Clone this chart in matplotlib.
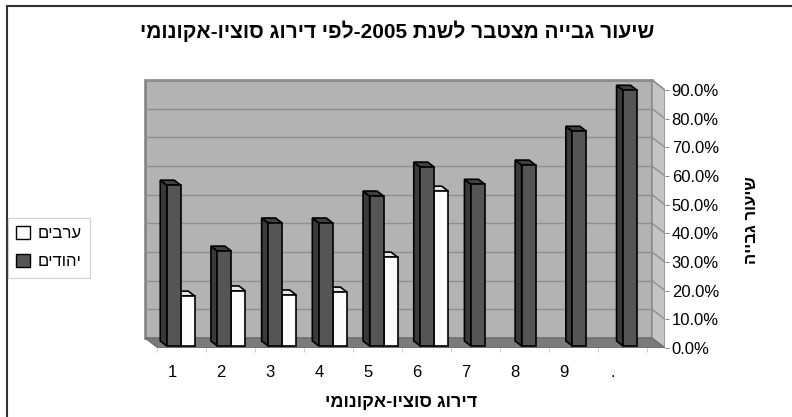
import re
import matplotlib
matplotlib.use("Agg")
import matplotlib.pyplot as plt
from matplotlib.patches import Polygon, Rectangle, Patch

plt.rcParams['font.family'] = ['Liberation Sans', 'DejaVu Sans']

# ---------------- data ----------------
categories = ["1", "2", "3", "4", "5", "6", "7", "8", "9", "."]
jews = [56.1, 33.1, 42.9, 42.9, 52.3, 62.4, 56.4, 63.1, 74.9, 89.2]
arabs = [17.4, 19.2, 17.8, 18.8, 31.0, 54.0, None, None, None, None]
yticks = [0, 10, 20, 30, 40, 50, 60, 70, 80, 90]
series_names = ["ערבים", "יהודים"]
title = "שיעור גבייה מצטבר לשנת 2005-לפי דירוג סוציו-אקונומי"
xlabel = "דירוג סוציו-אקונומי"
ylabel = "שיעור גבייה"


def vis(s):
    """Logical Hebrew string -> visual (LTR drawing) order."""
    r = s[::-1]
    return re.sub(r'[0-9A-Za-z.%]+', lambda m: m.group()[::-1], r)


W, H = 792, 417
fig = plt.figure(figsize=(W / 100, H / 100), dpi=100)

# geometry (pixels)
X0, SX = 158.0, 50.7      # front-left floor corner, px per category
Y0, SY = 348.0, 2.867     # 0% line at front, px per percent
n = len(categories)
xl = (-0.3, n)
yl = (0, 95)
left = X0 + SX * xl[0]
right = X0 + SX * xl[1]
top = Y0 - SY * yl[1]
ax = fig.add_axes([left / W, 1 - Y0 / H, (right - left) / W, (Y0 - top) / H])
ax.set_xlim(*xl)
ax.set_ylim(*yl)
for s in ax.spines.values():
    s.set_visible(False)
ax.patch.set_visible(False)

# depth offsets (data units)
DX = -13 / SX
DY = 10 / SY
ymax = yticks[-1]

# back wall
ax.add_patch(Polygon([(DX, DY), (n + DX, DY), (n + DX, ymax + DY), (DX, ymax + DY)],
                     closed=True, facecolor="#b3b3b3", edgecolor="#7f7f7f", lw=1.8, zorder=1))
# right wall
ax.add_patch(Polygon([(n, 0), (n + DX, DY), (n + DX, ymax + DY), (n, ymax)],
                     closed=True, facecolor="#c4c4c4", edgecolor="#8a8a8a", lw=1.0, zorder=1))
# floor
ax.add_patch(Polygon([(0, 0), (n, 0), (n + DX, DY), (DX, DY)],
                     closed=True, facecolor="#7a7a7a", edgecolor="#6a6a6a", lw=0.8, zorder=1.5))
# gridlines
for v in yticks[1:]:
    ax.plot([DX, n + DX], [v + DY, v + DY], color="#8f8f8f", lw=1.0, zorder=1.2)
    ax.plot([n + DX, n], [v + DY, v], color="#8f8f8f", lw=1.0, zorder=1.2)

# bars
bw = 14 / SX
f = 0.2
bdx, bdy = 0.5 * DX, 0.5 * DY
z = 3


def draw_bar(x0, val, front, side, topc, z):
    b = f * DY
    t = b + val
    x1 = x0 + bw
    ax.add_patch(Polygon([(x0, b), (x0, t), (x0 + bdx, t + bdy), (x0 + bdx, b + bdy)],
                         closed=True, facecolor=side, edgecolor="black", lw=1.2, zorder=z))
    ax.add_patch(Polygon([(x0, t), (x1, t), (x1 + bdx, t + bdy), (x0 + bdx, t + bdy)],
                         closed=True, facecolor=topc, edgecolor="black", lw=1.2, zorder=z))
    ax.bar(x0, val, width=bw, bottom=b, align="edge", color=front,
           edgecolor="black", lw=1.2, zorder=z + 0.1)


for i in range(n):
    c = i + 0.5 + f * DX
    if arabs[i] is not None:
        draw_bar(c, arabs[i], "#fcfcfc", "#d8d8d8", "#e6e6e6", z)
    draw_bar(c - bw, jews[i], "#555555", "#3a3a3a", "#404040", z + 1)
    z += 2

# axes ticks
ax.yaxis.tick_right()
ax.set_yticks(yticks)
ax.set_yticklabels([f"{v:.1f}%" for v in yticks], fontsize=12)
ax.tick_params(axis="y", length=3, pad=1.8, color="#8a8a8a")
label_x = [0.28 + 0.966 * i for i in range(n)]
ax.set_xticks(label_x)
ax.set_xticklabels(categories, fontsize=12)
ax.tick_params(axis="x", length=0, pad=12)
ax.set_xticks([-0.02 + 0.966 * i for i in range(n + 1)], minor=True)
ax.tick_params(axis="x", which="minor", length=3, color="#bdbdbd")

# texts
fig.text(397 / W, 1 - 31 / H, vis(title), ha="center", va="center",
         fontsize=15, fontweight="bold")
fig.text(401 / W, 1 - 403 / H, vis(xlabel), ha="center", va="center",
         fontsize=13, fontweight="bold")
fig.text(751 / W, 1 - 220 / H, vis(ylabel), ha="center", va="center",
         fontsize=12, fontweight="bold", rotation=90)

# legend
handles = [Patch(facecolor="#fcfcfc", edgecolor="black", lw=1.0),
           Patch(facecolor="#555555", edgecolor="black", lw=1.0)]
leg = fig.legend(handles, [vis(s) for s in series_names], loc="upper left",
                 bbox_to_anchor=(8 / W, 1 - 218 / H), fontsize=12,
                 handlelength=0.8, handleheight=0.8, handletextpad=0.5,
                 labelspacing=0.75, borderpad=0.5, fancybox=False,
                 edgecolor="#d0d0d0", framealpha=1, borderaxespad=0)
leg.get_frame().set_linewidth(0.8)

# outer frame
fig.patches.append(Rectangle((7 / W, -0.05), 1.1, 1.05 - 6 / H,
                             transform=fig.transFigure, fill=False,
                             edgecolor="#333333", lw=1.5))

fig.savefig("out.png", dpi=100)
